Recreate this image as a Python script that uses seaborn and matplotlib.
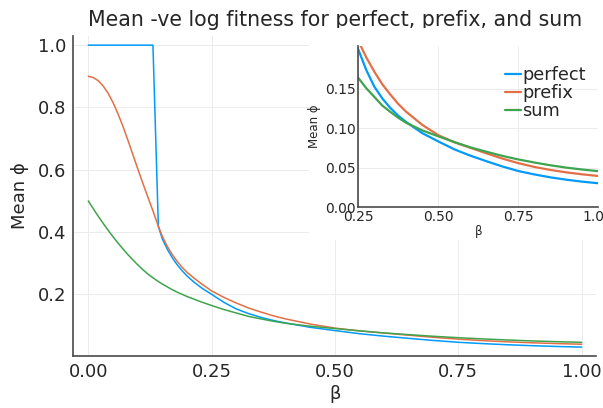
import numpy as np
import pandas as pd
import matplotlib
matplotlib.use("Agg")
import matplotlib.pyplot as plt
import seaborn as sns
from matplotlib.patches import Rectangle

# values
beta = [0.00, 0.01, 0.02, 0.03, 0.04, 0.05, 0.06, 0.07, 0.08, 0.09, 0.10, 0.11,
        0.12, 0.131, 0.142, 0.15, 0.16, 0.17, 0.18, 0.19, 0.20, 0.215, 0.23,
        0.25, 0.275, 0.30, 0.325, 0.35, 0.375, 0.40, 0.45, 0.50, 0.55, 0.60,
        0.65, 0.70, 0.75, 0.80, 0.85, 0.90, 0.95, 1.00]
perfect = [1.0, 1.0, 1.0, 1.0, 1.0, 1.0, 1.0, 1.0, 1.0, 1.0, 1.0, 1.0,
           1.0, 1.0, 0.418, 0.378, 0.345, 0.318, 0.295, 0.276, 0.259, 0.238, 0.220,
           0.200, 0.174, 0.153, 0.138, 0.126, 0.116, 0.108, 0.094, 0.0835, 0.0735, 0.0655,
           0.0585, 0.0518, 0.0460, 0.0417, 0.0380, 0.0350, 0.0325, 0.0305]
prefix = [0.900, 0.896, 0.886, 0.869, 0.846, 0.816, 0.780, 0.740, 0.696, 0.650, 0.604, 0.559,
          0.515, 0.468, 0.418, 0.386, 0.354, 0.328, 0.306, 0.287, 0.271, 0.251, 0.233,
          0.211, 0.190, 0.172, 0.156, 0.143, 0.131, 0.121, 0.1045, 0.0915, 0.0825, 0.0755,
          0.0685, 0.0618, 0.0560, 0.0512, 0.0474, 0.0443, 0.0418, 0.0397]
summ = [0.500, 0.475, 0.451, 0.428, 0.406, 0.385, 0.365, 0.346, 0.328, 0.311, 0.295, 0.280,
        0.266, 0.253, 0.241, 0.233, 0.224, 0.215, 0.207, 0.200, 0.193, 0.184, 0.175,
        0.164, 0.151, 0.140, 0.129, 0.121, 0.1135, 0.107, 0.0975, 0.0900, 0.0827, 0.0760,
        0.0705, 0.0652, 0.0607, 0.0568, 0.0533, 0.0503, 0.0479, 0.0458]

series = ["perfect", "prefix", "sum"]
colors = ["#009AFA", "#E36F47", "#3EA44E"]

df = pd.concat([
    pd.DataFrame({"beta": beta, "phi": perfect, "kind": "perfect"}),
    pd.DataFrame({"beta": beta, "phi": prefix, "kind": "prefix"}),
    pd.DataFrame({"beta": beta, "phi": summ, "kind": "sum"}),
])

sns.set_style("whitegrid")
plt.rcParams["font.family"] = ["DejaVu Sans"]
spine_col = "#4a4a4a"
grid_col = "#ececec"

fig = plt.figure(figsize=(6.03, 4.08), dpi=100)

# main axes
ax = fig.add_axes([0.1211, 0.1275, 0.868, 0.784])
sns.lineplot(data=df, x="beta", y="phi", hue="kind", hue_order=series,
             palette=colors, linewidth=1.1, legend=False, ax=ax)
ax.set_xlim(-0.031, 1.03)
ax.set_ylim(0.002, 1.029)
ax.set_xticks([0, 0.25, 0.5, 0.75, 1.0])
ax.set_xticklabels(["0.00", "0.25", "0.50", "0.75", "1.00"])
ax.set_yticks([0.2, 0.4, 0.6, 0.8, 1.0])
ax.set_yticklabels(["0.2", "0.4", "0.6", "0.8", "1.0"])
ax.set_xlabel("β", fontsize=13, labelpad=3)
ax.set_ylabel("Mean ϕ", fontsize=13, labelpad=6)
ax.set_title("Mean -ve log fitness for perfect, prefix, and sum", fontsize=14.8, pad=7)

ax.set_facecolor("white")
for s in ["top", "right"]:
    ax.spines[s].set_visible(False)
for s in ["left", "bottom"]:
    ax.spines[s].set_color(spine_col)
    ax.spines[s].set_linewidth(1.2)
ax.grid(True, color=grid_col, linewidth=0.7)
ax.tick_params(direction="in", length=4, width=0.8, color=spine_col,
               labelsize=13, pad=5)

# white box behind the inset (covers its labels too)
fig.patches.append(Rectangle((0.5124, 0.4118), 0.49, 0.52, transform=fig.transFigure,
                             facecolor="white", edgecolor="none", zorder=1))

# inset axes
ins = fig.add_axes([0.5942, 0.4919, 0.398, 0.3963])
ins.set_zorder(2)
sns.lineplot(data=df, x="beta", y="phi", hue="kind", hue_order=series,
             palette=colors, linewidth=1.6, ax=ins)
ins.set_xlim(0.25, 1.0)
ins.set_ylim(0.0, 0.205)
ins.set_xticks([0.25, 0.5, 0.75, 1.0])
ins.set_xticklabels(["0.25", "0.50", "0.75", "1.00"])
ins.set_yticks([0.0, 0.05, 0.10, 0.15])
ins.set_yticklabels(["0.00", "0.05", "0.10", "0.15"])
ins.set_xlabel("β", fontsize=8.5, labelpad=1)
ins.set_ylabel("Mean ϕ", fontsize=8.5, labelpad=3)
ins.set_facecolor("white")
for s in ["top", "right"]:
    ins.spines[s].set_visible(False)
for s in ["left", "bottom"]:
    ins.spines[s].set_color(spine_col)
    ins.spines[s].set_linewidth(1.2)
ins.grid(True, color=grid_col, linewidth=0.7)
ins.tick_params(direction="in", length=3, width=0.8, color=spine_col,
                labelsize=10, pad=2)

leg = ins.legend(loc="upper right", bbox_to_anchor=(1.0, 0.95), frameon=False,
                 fontsize=12.8, handlelength=0.9, handletextpad=0.1,
                 labelspacing=0.0, borderaxespad=0.3, title=None)

fig.savefig("out.png", dpi=100, facecolor="white")
